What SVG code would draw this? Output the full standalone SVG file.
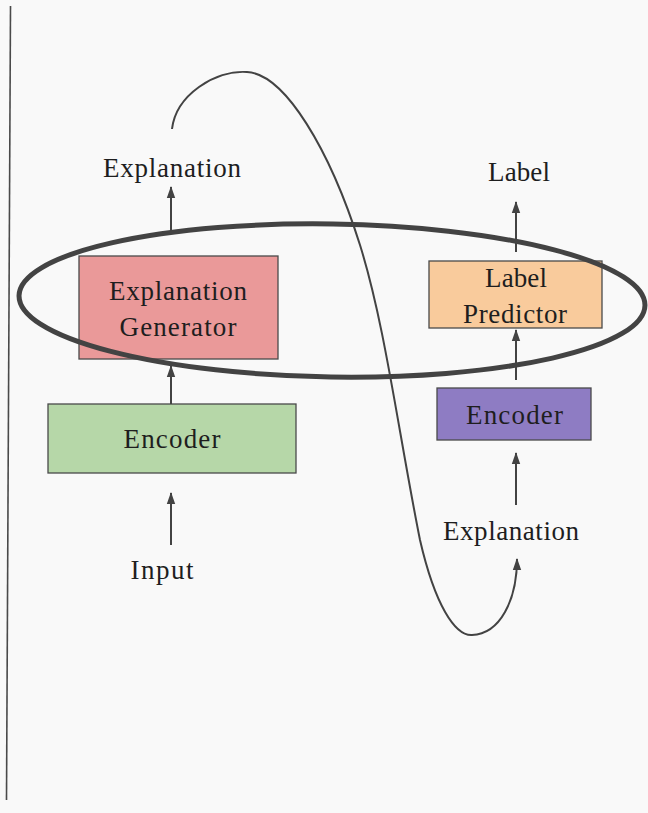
<svg xmlns="http://www.w3.org/2000/svg" width="648" height="813" viewBox="0 0 648 813">
  <style>
    .box { stroke: #4a4a4a; stroke-width: 1.3; }
    .lbl { font-family: "Liberation Serif", "Times New Roman", serif; font-size: 27px; fill: #1e1e1e; text-anchor: middle; }
    .wire { fill: none; stroke: #434343; stroke-width: 2; }
  </style>
  <defs>
    <marker id="head" markerUnits="userSpaceOnUse" markerWidth="12" markerHeight="10" viewBox="0 0 12 10" refX="11" refY="5" orient="auto">
      <path d="M0,0.8 L12,5 L0,9.2 z" fill="#434343"/>
    </marker>
  </defs>

  <rect width="648" height="813" fill="#f9f9f9"/>

  <!-- left border line -->
  <line x1="10.5" y1="6" x2="6.5" y2="800" stroke="#4a4a4a" stroke-width="1.6"/>

  <!-- nodes -->
  <g id="expl-generator">
    <rect class="box" x="79" y="256" width="199" height="103" fill="#ea9999"/>
    <text class="lbl" x="178" y="300" textLength="138" lengthAdjust="spacing">Explanation</text>
    <text class="lbl" x="178" y="336" textLength="117" lengthAdjust="spacing">Generator</text>
  </g>
  <g id="encoder-left">
    <rect class="box" x="48" y="404" width="248" height="69" fill="#b6d7a8"/>
    <text class="lbl" x="172" y="448" textLength="97" lengthAdjust="spacing">Encoder</text>
  </g>
  <g id="label-predictor">
    <rect class="box" x="429" y="261" width="173" height="67" fill="#f9cb9c"/>
    <text class="lbl" x="516" y="287" textLength="62" lengthAdjust="spacing">Label</text>
    <text class="lbl" x="515" y="323" textLength="104" lengthAdjust="spacing">Predictor</text>
  </g>
  <g id="encoder-right">
    <rect class="box" x="437" y="388" width="154" height="52" fill="#8e7cc3"/>
    <text class="lbl" x="514.5" y="424" textLength="97" lengthAdjust="spacing">Encoder</text>
  </g>
  <g id="out-explanation">
    <text class="lbl" x="172" y="177" textLength="138" lengthAdjust="spacing">Explanation</text>
  </g>
  <g id="input">
    <text class="lbl" x="162" y="579" textLength="63" lengthAdjust="spacing">Input</text>
  </g>
  <g id="out-label">
    <text class="lbl" x="519" y="181" textLength="62" lengthAdjust="spacing">Label</text>
  </g>
  <g id="in-explanation">
    <text class="lbl" x="511" y="540" textLength="136" lengthAdjust="spacing">Explanation</text>
  </g>

  <!-- connectors -->
  <g id="connectors">
    <line class="wire" x1="171" y1="233" x2="171" y2="187" marker-end="url(#head)"/>
    <line class="wire" x1="171" y1="404" x2="171" y2="366" marker-end="url(#head)"/>
    <line class="wire" x1="171" y1="545" x2="171" y2="493" marker-end="url(#head)"/>
    <line class="wire" x1="516" y1="252" x2="516" y2="202" marker-end="url(#head)"/>
    <line class="wire" x1="516" y1="380" x2="516" y2="330" marker-end="url(#head)"/>
    <line class="wire" x1="516" y1="505" x2="516" y2="453" marker-end="url(#head)"/>
    <!-- loop carrying the explanation over to the right-hand model -->
    <path class="wire" d="M172,129 C176,95 215,70 247,72 C285,74 330,150 360,245 C385,325 398,430 420,540 C435,605 455,636 472,635 C500,634 517,600 517,559" marker-end="url(#head)"/>
  </g>

  <!-- grouping ellipse -->
  <ellipse cx="332" cy="300.5" rx="313" ry="76.5" transform="rotate(0.9 332 300.5)" fill="none" stroke="#434343" stroke-width="5"/>
</svg>
